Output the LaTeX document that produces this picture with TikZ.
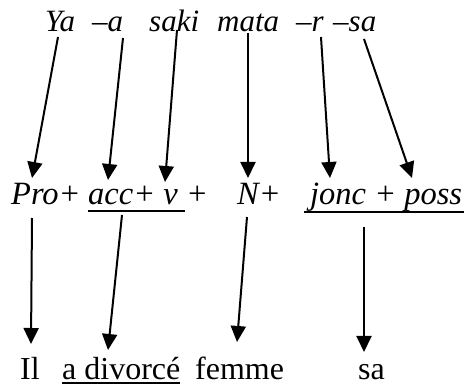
\documentclass[tikz,border=0pt]{standalone}
\usepackage{fontspec}
\setmainfont{Liberation Serif}
\usetikzlibrary{arrows.meta}
\tikzset{
  ita/.style={inner sep=0pt, anchor=base west, font=\fontsize{31}{34}\selectfont\itshape},
  itb/.style={inner sep=0pt, anchor=base west, font=\fontsize{32.5}{36}\selectfont\itshape},
  rm/.style={inner sep=0pt, anchor=base west, font=\fontsize{32}{36}\selectfont},
  arr/.style={line width=2pt, -{Triangle[length=16pt,width=15pt]}},
  ul/.style={line width=1.6pt}
}
\begin{document}
\begin{tikzpicture}[x=1pt,y=-1pt]
\useasboundingbox (0,0) rectangle (464,385);
% line 1
\node[ita] (ya)   at (45,32)  {Ya};
\node[ita] (a)    at (92,32)  {–a};
\node[ita] (saki) at (149,32) {saki};
\node[ita] (mata) at (217,32) {mata};
\node[ita] (r)    at (296,32) {–r};
\node[ita] (sa1)  at (333,32) {–sa};
% line 2
\node[itb] (pro)  at (11,205)  {Pro+};
\node[itb] (accv) at (88,205)  {acc+ v};
\node[itb] (pl)   at (186,205) {+};
\node[itb] (n)    at (237,205) {N+};
\node[itb] (jp)   at (310,205) {jonc + poss};
\coordinate (u1a) at (88,211);  \coordinate (u1b) at (185,211);
\coordinate (u2a) at (304,212); \coordinate (u2b) at (464,212);
\draw[ul] (u1a) -- (u1b);
\draw[ul] (u2a) -- (u2b);
% line 3
\node[rm] (il)   at (20,379)  {Il};
\node[rm] (div)  at (62,379)  {a divorcé};
\node[rm] (fem)  at (195,379) {femme};
\node[rm] (sa)   at (358,379) {sa};
\coordinate (u3a) at (62,383); \coordinate (u3b) at (180,383);
\draw[ul] (u3a) -- (u3b);
% arrow endpoints
\coordinate (s1) at (58,37);   \coordinate (e1) at (32,178);
\coordinate (s2) at (123,38);  \coordinate (e2) at (108,180);
\coordinate (s3) at (177,30);  \coordinate (e3) at (165,182);
\coordinate (s4) at (248,33);  \coordinate (e4) at (248,178);
\coordinate (s5) at (321,37);  \coordinate (e5) at (330,178);
\coordinate (s6) at (364,39);  \coordinate (e6) at (412,178);
\coordinate (s7) at (32,218);  \coordinate (e7) at (31,344);
\coordinate (s8) at (122,215); \coordinate (e8) at (108,350);
\coordinate (s9) at (247,217); \coordinate (e9) at (237,342);
\coordinate (s10) at (364,227); \coordinate (e10) at (364,352);
\foreach \i in {1,...,10} \draw[arr] (s\i) -- (e\i);
\end{tikzpicture}
\end{document}
